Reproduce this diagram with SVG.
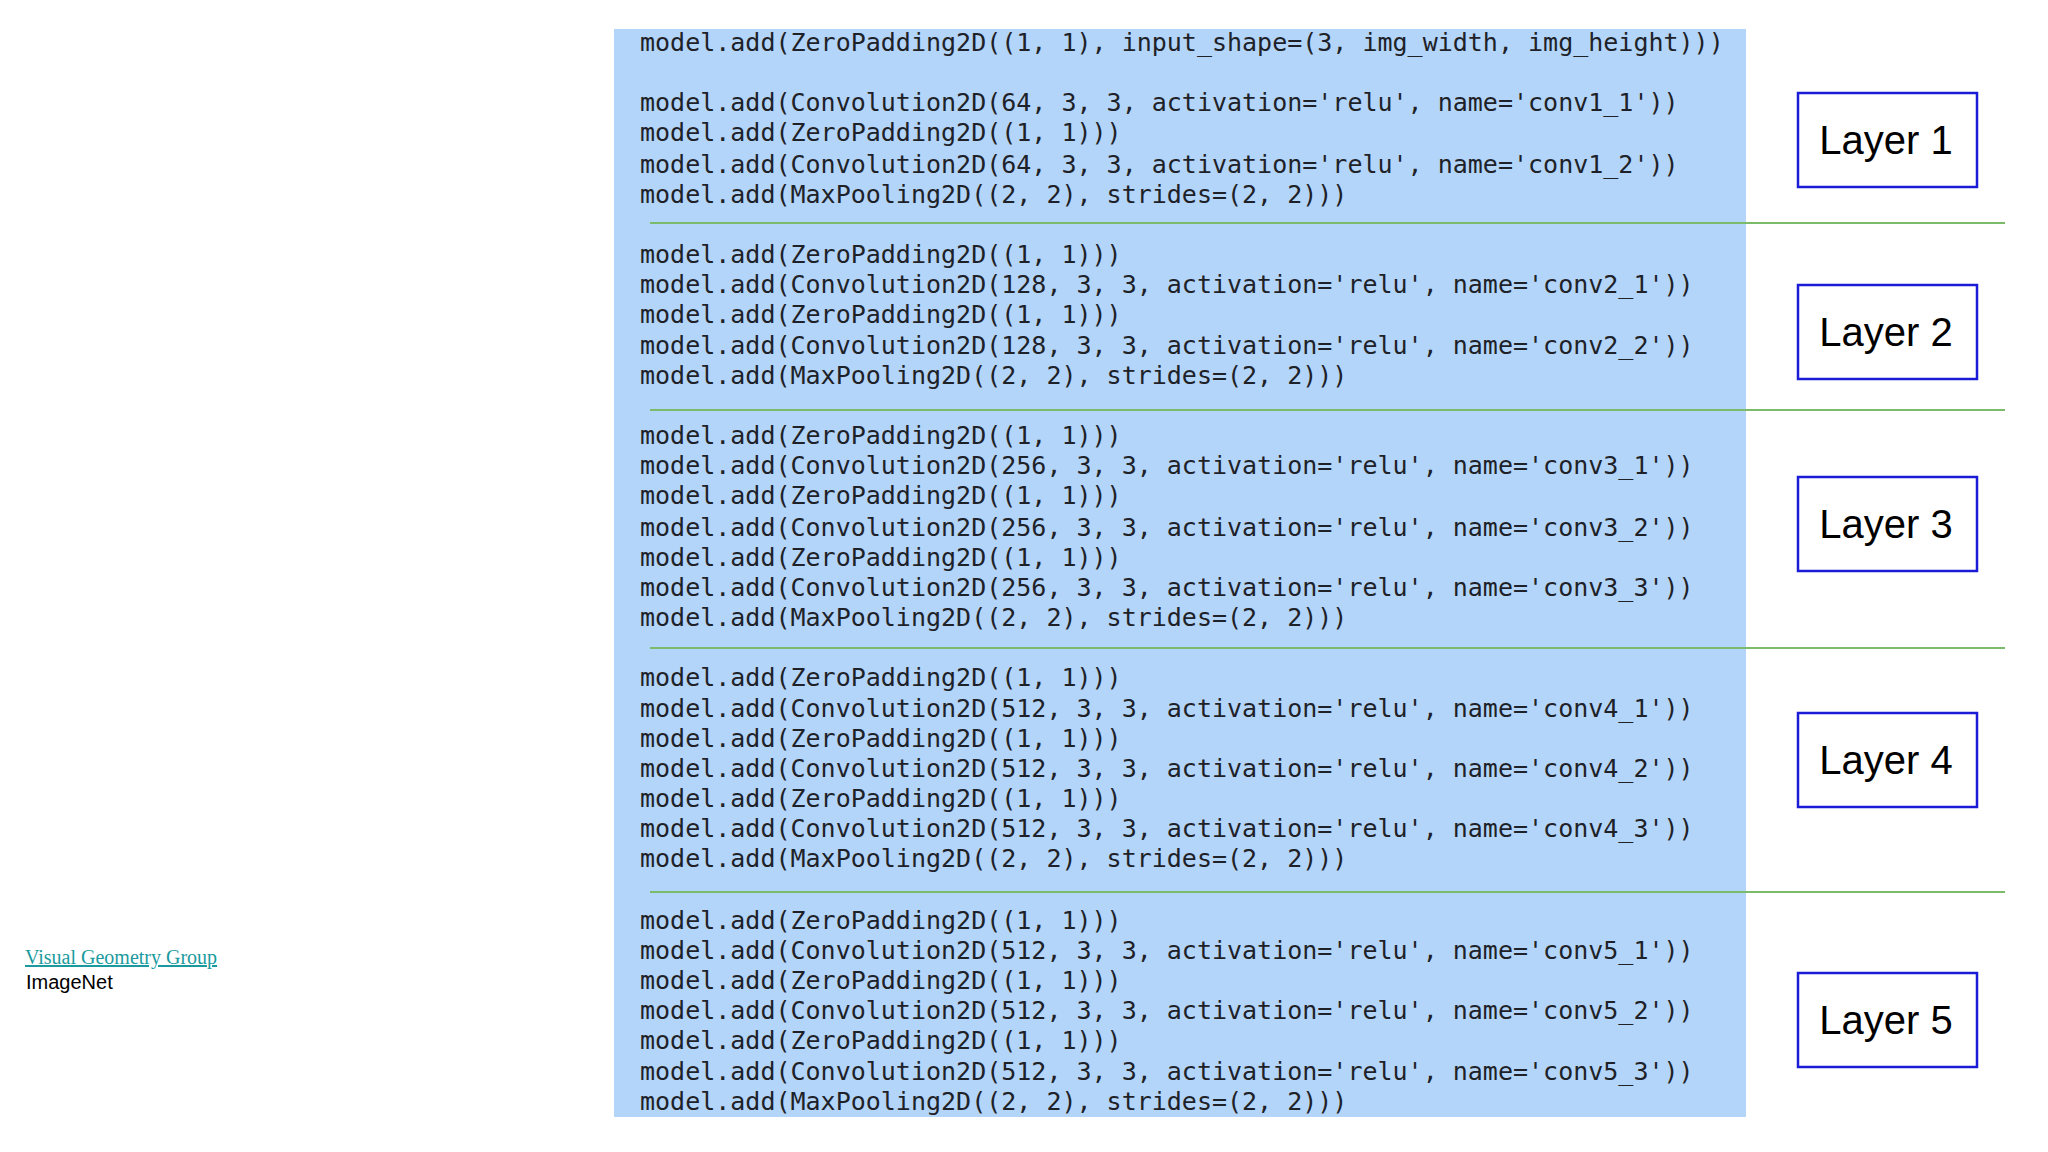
<svg xmlns="http://www.w3.org/2000/svg" width="2048" height="1152" viewBox="0 0 2048 1152">
<style>
.code{font-family:"DejaVu Sans Mono","Liberation Mono",monospace;font-size:25px;fill:#1e2228}
.box{fill:#fff;stroke:#1c1cd6;stroke-width:2.5}
.lbl{font-family:"Liberation Sans",Arial,sans-serif;font-size:40px;fill:#000;text-anchor:middle}
.sep{stroke:#7cbb6a;stroke-width:2}
</style>
<rect width="2048" height="1152" fill="#fff"/>
<rect x="614" y="29" width="1132" height="1088" fill="#b3d5f9"/>
<g id="code" class="code">
<text x="640" y="51">model.add(ZeroPadding2D((1, 1), input_shape=(3, img_width, img_height)))</text>
<text x="640" y="111">model.add(Convolution2D(64, 3, 3, activation='relu', name='conv1_1'))</text>
<text x="640" y="141">model.add(ZeroPadding2D((1, 1)))</text>
<text x="640" y="173">model.add(Convolution2D(64, 3, 3, activation='relu', name='conv1_2'))</text>
<text x="640" y="203">model.add(MaxPooling2D((2, 2), strides=(2, 2)))</text>
<text x="640" y="263">model.add(ZeroPadding2D((1, 1)))</text>
<text x="640" y="293">model.add(Convolution2D(128, 3, 3, activation='relu', name='conv2_1'))</text>
<text x="640" y="323">model.add(ZeroPadding2D((1, 1)))</text>
<text x="640" y="354">model.add(Convolution2D(128, 3, 3, activation='relu', name='conv2_2'))</text>
<text x="640" y="384">model.add(MaxPooling2D((2, 2), strides=(2, 2)))</text>
<text x="640" y="444">model.add(ZeroPadding2D((1, 1)))</text>
<text x="640" y="474">model.add(Convolution2D(256, 3, 3, activation='relu', name='conv3_1'))</text>
<text x="640" y="504">model.add(ZeroPadding2D((1, 1)))</text>
<text x="640" y="536">model.add(Convolution2D(256, 3, 3, activation='relu', name='conv3_2'))</text>
<text x="640" y="566">model.add(ZeroPadding2D((1, 1)))</text>
<text x="640" y="596">model.add(Convolution2D(256, 3, 3, activation='relu', name='conv3_3'))</text>
<text x="640" y="626">model.add(MaxPooling2D((2, 2), strides=(2, 2)))</text>
<text x="640" y="686">model.add(ZeroPadding2D((1, 1)))</text>
<text x="640" y="717">model.add(Convolution2D(512, 3, 3, activation='relu', name='conv4_1'))</text>
<text x="640" y="747">model.add(ZeroPadding2D((1, 1)))</text>
<text x="640" y="777">model.add(Convolution2D(512, 3, 3, activation='relu', name='conv4_2'))</text>
<text x="640" y="807">model.add(ZeroPadding2D((1, 1)))</text>
<text x="640" y="837">model.add(Convolution2D(512, 3, 3, activation='relu', name='conv4_3'))</text>
<text x="640" y="867">model.add(MaxPooling2D((2, 2), strides=(2, 2)))</text>
<text x="640" y="929">model.add(ZeroPadding2D((1, 1)))</text>
<text x="640" y="959">model.add(Convolution2D(512, 3, 3, activation='relu', name='conv5_1'))</text>
<text x="640" y="989">model.add(ZeroPadding2D((1, 1)))</text>
<text x="640" y="1019">model.add(Convolution2D(512, 3, 3, activation='relu', name='conv5_2'))</text>
<text x="640" y="1049">model.add(ZeroPadding2D((1, 1)))</text>
<text x="640" y="1080">model.add(Convolution2D(512, 3, 3, activation='relu', name='conv5_3'))</text>
<text x="640" y="1110">model.add(MaxPooling2D((2, 2), strides=(2, 2)))</text>
</g>
<g id="separators" class="sep">
<line x1="650" y1="223" x2="2005" y2="223"/>
<line x1="650" y1="410" x2="2005" y2="410"/>
<line x1="650" y1="648" x2="2005" y2="648"/>
<line x1="650" y1="892" x2="2005" y2="892"/>
</g>
<g id="layer1"><rect class="box" x="1798" y="93" width="179" height="94"/><text class="lbl" x="1886" y="154">Layer 1</text></g>
<g id="layer2"><rect class="box" x="1798" y="285" width="179" height="94"/><text class="lbl" x="1886" y="346">Layer 2</text></g>
<g id="layer3"><rect class="box" x="1798" y="477" width="179" height="94"/><text class="lbl" x="1886" y="538">Layer 3</text></g>
<g id="layer4"><rect class="box" x="1798" y="713" width="179" height="94"/><text class="lbl" x="1886" y="774">Layer 4</text></g>
<g id="layer5"><rect class="box" x="1798" y="973" width="179" height="94"/><text class="lbl" x="1886" y="1034">Layer 5</text></g>
<g id="caption">
<text x="25" y="964" font-family="Liberation Serif, serif" font-size="20" fill="#1a9a9e" text-decoration="underline">Visual Geometry Group</text>
<text x="26" y="989" font-family="Liberation Sans, Arial, sans-serif" font-size="20" fill="#000">ImageNet</text>
</g>
</svg>
